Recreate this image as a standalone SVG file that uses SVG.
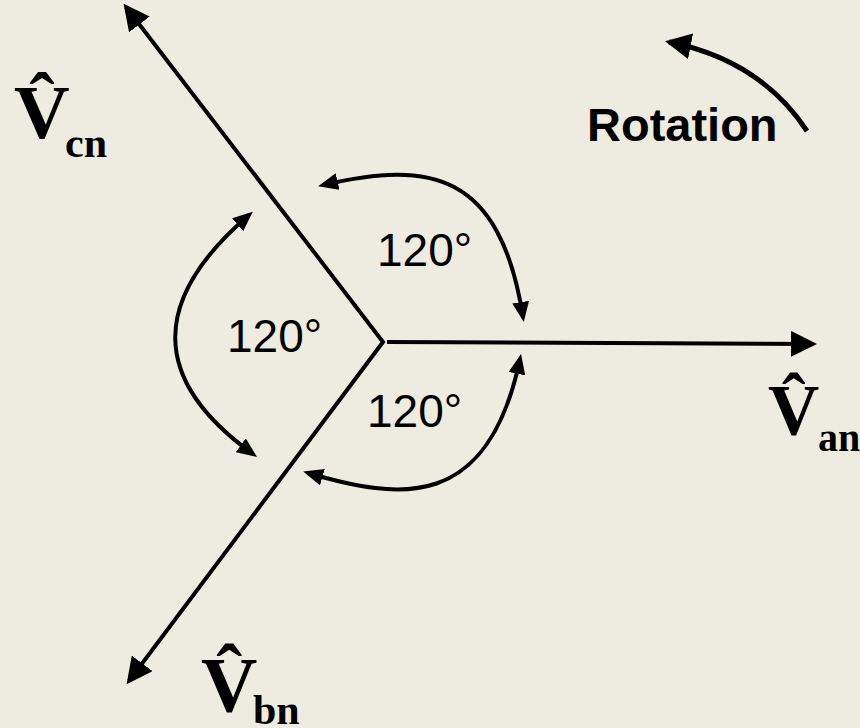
<svg xmlns="http://www.w3.org/2000/svg" width="860" height="728" viewBox="0 0 860 728">
<style>
.ax{fill:none;stroke:#000;stroke-width:4;stroke-linejoin:miter}
.arc{fill:none;stroke:#000;stroke-width:4}
.deg{font-family:"Liberation Sans",Arial,sans-serif;font-size:46px;fill:#000}
.rot{font-family:"Liberation Sans",Arial,sans-serif;font-size:47px;font-weight:bold;fill:#000}
.v{font-family:"Liberation Serif","Times New Roman",serif;font-weight:bold;fill:#000}
</style>
<defs>
<marker id="big" markerUnits="userSpaceOnUse" viewBox="0 0 26 26" markerWidth="26" markerHeight="26" refX="22" refY="13" orient="auto-start-reverse">
<path d="M0,0 L26,13 L0,26 z" fill="#000"/>
</marker>
<marker id="sm" markerUnits="userSpaceOnUse" viewBox="0 0 20 17" markerWidth="20" markerHeight="17" refX="15" refY="8.5" orient="auto-start-reverse">
<path d="M0,0 L20,8.5 L0,17 z" fill="#000"/>
</marker>
</defs>
<rect width="860" height="728" fill="#EEECE1"/>
<g id="connectors">
<path class="ax" d="M126,7 L383,342 L129,681" marker-start="url(#big)" marker-end="url(#big)"/>
<path class="ax" d="M387,342 L813,344" marker-end="url(#big)"/>
<path class="arc" d="M323,185 C430,160 500,172 523,317" marker-start="url(#sm)" marker-end="url(#sm)"/>
<path class="arc" d="M249,215 C150,300 150,380 253,454" marker-start="url(#sm)" marker-end="url(#sm)"/>
<path class="arc" d="M308,473 C400,500 488,512 520,359" marker-start="url(#sm)" marker-end="url(#sm)"/>
<path class="arc" style="stroke-width:5" d="M807,131 Q760,60 669,42" marker-end="url(#big)"/>
</g>
<g id="rotation"><text class="rot" x="587" y="141">Rotation</text></g>
<g id="angle-top"><text class="deg" x="377" y="266">120°</text></g>
<g id="angle-left"><text class="deg" x="227" y="352">120°</text></g>
<g id="angle-bottom"><text class="deg" x="367" y="427">120°</text></g>
<g id="Vcn">
<text class="v" x="14" y="138" font-size="77">V̂<tspan x="65" y="157" font-size="42">cn</tspan></text>
</g>
<g id="Van">
<text class="v" x="768" y="434" font-size="71">V̂<tspan x="818" y="451" font-size="40">an</tspan></text>
</g>
<g id="Vbn">
<text class="v" x="201" y="711" font-size="78">V̂<tspan x="253" y="724" font-size="42">bn</tspan></text>
</g>
</svg>
